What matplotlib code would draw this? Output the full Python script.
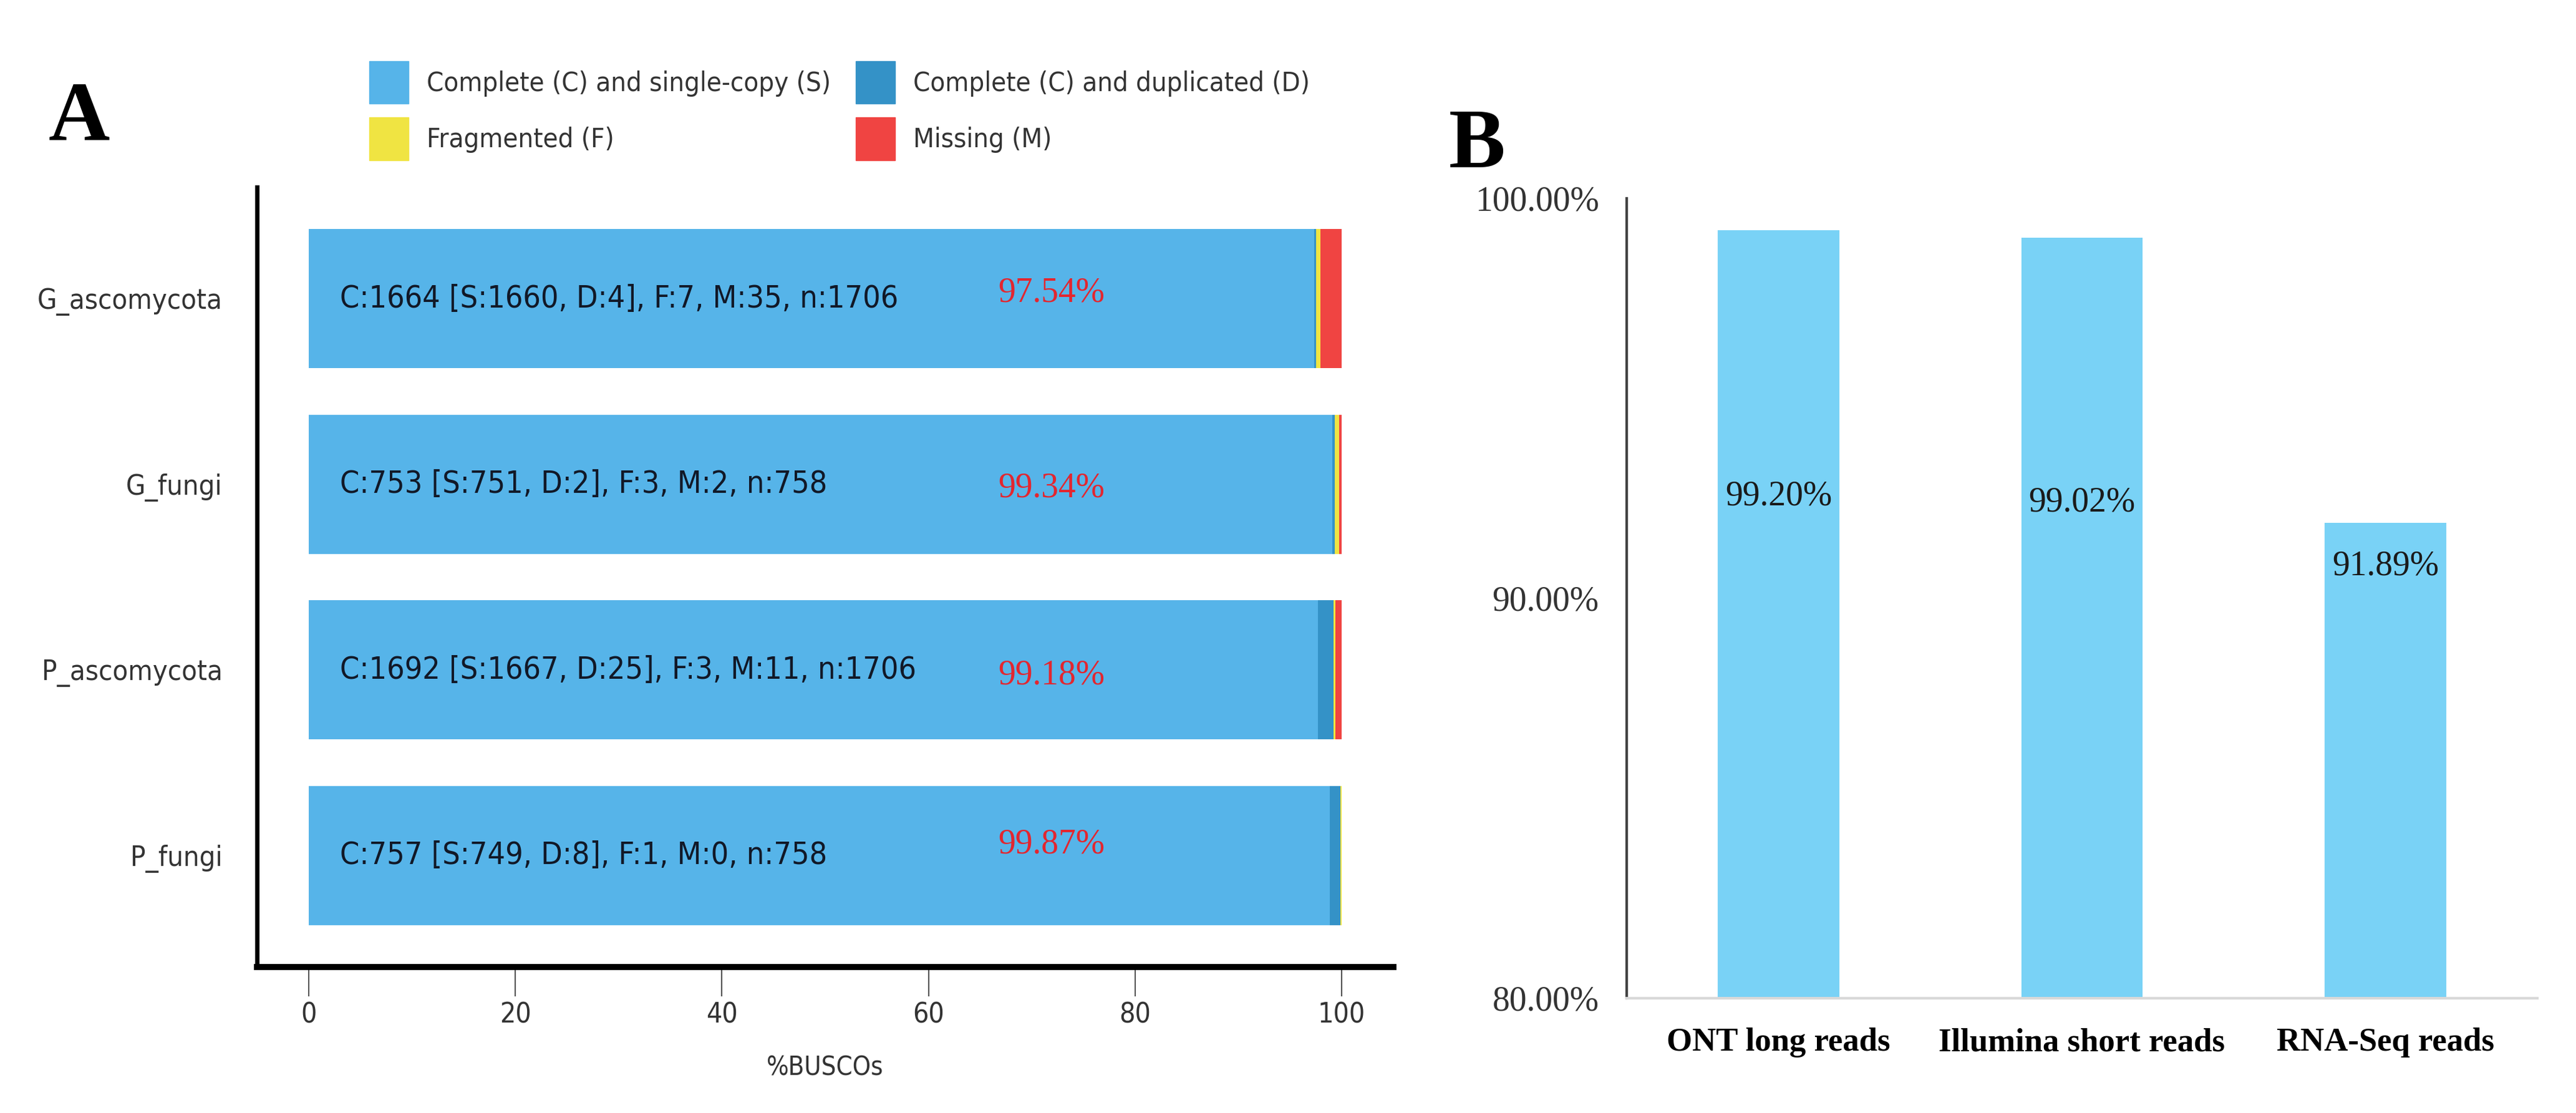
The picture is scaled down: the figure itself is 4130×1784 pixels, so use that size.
import numpy as np
import matplotlib.pyplot as plt
from matplotlib.patches import Patch
from matplotlib.font_manager import FontProperties

# panel A: BUSCO counts per lineage
lineages = ["G_ascomycota", "G_fungi", "P_ascomycota", "P_fungi"]
single = np.array([1660, 751, 1667, 749])
duplicated = np.array([4, 2, 25, 8])
fragmented = np.array([7, 3, 3, 1])
missing = np.array([35, 2, 11, 0])
total = np.array([1706, 758, 1706, 758])

# panel B: mapping rates
read_sets = ["ONT long reads", "Illumina short reads", "RNA-Seq reads"]
mapping_rate = [99.20, 99.02, 91.89]

busco_names = ["Complete (C) and single-copy (S)", "Complete (C) and duplicated (D)",
               "Fragmented (F)", "Missing (M)"]
busco_colors = ["#56B4E9", "#3492C7", "#F0E442", "#F04442"]

W, H = 4130, 1784
fig = plt.figure(figsize=(W / 100, H / 100), dpi=100)

sans = dict(family="DejaVu Sans", stretch="condensed")

# ---------- A ----------
axA = fig.add_axes([412 / W, 1 - 1550 / H, (2234 - 412) / W, (1550 - 300) / H])
ypos = np.arange(len(lineages))
parts = [single, duplicated, fragmented, missing]
left = np.zeros(len(lineages))
for counts, col in zip(parts, busco_colors):
    pct = counts / total * 100
    axA.barh(ypos, pct, left=left, height=0.75, color=col, linewidth=0)
    left += pct

complete = single + duplicated
red_dy = [-0.03, 0.02, 0.03, -0.06]
for i in range(len(lineages)):
    txt = "C:%d [S:%d, D:%d], F:%d, M:%d, n:%d" % (complete[i], single[i], duplicated[i],
                                                  fragmented[i], missing[i], total[i])
    axA.text(3, ypos[i], txt, ha="left", va="center", fontsize=36,
             color="#111827", **sans)
    axA.text(71.9, ypos[i] + red_dy[i], "%.2f%%" % (complete[i] / total[i] * 100),
             ha="center", va="center", fontsize=40, color="#e3262f",
             family="Liberation Serif")

axA.set_xlim(-5, 105)
axA.set_ylim(-0.6, 3.6)
axA.invert_yaxis()
axA.set_yticks(ypos)
axA.set_yticklabels(lineages, **sans)
axA.set_xticks([0, 20, 40, 60, 80, 100])
axA.set_xticklabels(["0", "20", "40", "60", "80", "100"], **sans)
axA.tick_params(axis="y", length=0, pad=40, labelsize=32.5, labelcolor="#333333")
axA.tick_params(axis="x", length=34, width=1.5, color="#555555", pad=6,
                labelsize=32, labelcolor="#333333")
axA.set_xlabel("%BUSCOs", fontsize=30, color="#333333", labelpad=30, **sans)
for s in ["top", "right"]:
    axA.spines[s].set_visible(False)
axA.spines["left"].set_linewidth(5)
axA.spines["bottom"].set_linewidth(7)

handles = [Patch(color=c) for c in busco_colors]
order = [0, 2, 1, 3]
fig.legend([handles[k] for k in order], [busco_names[k] for k in order],
           loc="upper left", bbox_to_anchor=(570 / W, 1 - 76 / H), ncol=2,
           frameon=False, prop=FontProperties(size=31.3, **sans),
           handlelength=1.45, handleheight=2.05,
           handletextpad=0.68, columnspacing=0.9, labelspacing=0.5, borderpad=0,
           labelcolor="#333333")

fig.text(78 / W, 1 - 225 / H, "A", fontsize=98, fontweight="bold",
         family="Liberation Serif", ha="left", va="baseline")

# ---------- B ----------
axB = fig.add_axes([2608 / W, 1 - 1600 / H, (4068 - 2608) / W, (1600 - 318) / H])
xb = np.arange(len(read_sets))
axB.bar(xb, mapping_rate, width=0.4, color="#79D2F6", linewidth=0)
label_y = [92.55, 92.4, 90.8]
for i, v in enumerate(mapping_rate):
    axB.text(xb[i], label_y[i], "%.2f%%" % v, ha="center", va="center",
             fontsize=40, color="#1a1a1a", family="Liberation Serif")
axB.set_ylim(80, 100)
axB.set_xlim(-0.5, 2.5)
axB.set_yticks([80, 90, 100])
axB.set_yticklabels(["%.2f%%" % t for t in [80, 90, 100]], family="Liberation Serif")
axB.set_xticks(xb)
axB.set_xticklabels(read_sets, family="Liberation Serif", fontweight="bold")
axB.tick_params(axis="y", length=0, pad=32, labelsize=40, labelcolor="#333333")
axB.tick_params(axis="x", length=0, pad=34, labelsize=38, labelcolor="black")
for s in ["top", "right"]:
    axB.spines[s].set_visible(False)
axB.spines["left"].set_linewidth(3)
axB.spines["left"].set_color("#444444")
axB.spines["bottom"].set_linewidth(3)
axB.spines["bottom"].set_color("#d9d9d9")

fig.text(2323 / W, 1 - 268 / H, "B", fontsize=98, fontweight="bold",
         family="Liberation Serif", ha="left", va="baseline")

fig.savefig("out.png", dpi=100)
